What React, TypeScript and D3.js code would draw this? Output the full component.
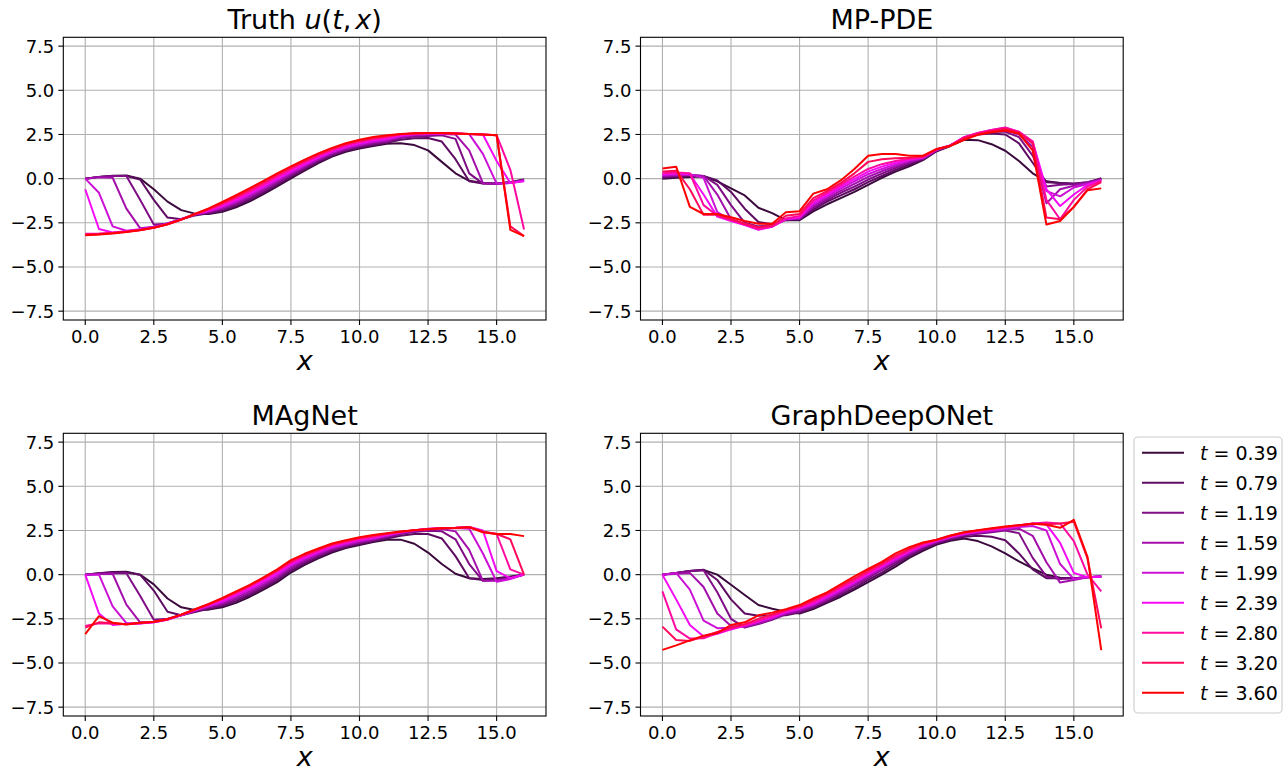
import React from "react";
import * as d3 from "d3";

// spatial grid (x) and the nine time snapshots
const xs = [0, 0.5, 1, 1.5, 2, 2.5, 3, 3.5, 4, 4.5, 5, 5.5, 6, 6.5, 7, 7.5, 8, 8.5, 9, 9.5, 10, 10.5, 11, 11.5, 12, 12.5, 13, 13.5, 14, 14.5, 15, 15.5, 16];
const times = ["0.39", "0.79", "1.19", "1.59", "1.99", "2.39", "2.80", "3.20", "3.60"];
const colors = ["#3b0a3d", "#5e0b62", "#800d86", "#a40fac", "#cc10d6", "#f50af5", "#ff0aa0", "#ff0a5a", "#ff0000"];

const xTicks = [0, 2.5, 5, 7.5, 10, 12.5, 15];
const yTicks = [-7.5, -5, -2.5, 0, 2.5, 5, 7.5];

const truth = [
  [0, 0.1, 0.17, 0.18, 0.0, -0.6, -1.3, -1.78, -1.98, -2.0, -1.88, -1.62, -1.28, -0.88, -0.44, 0.02, 0.45, 0.88, 1.25, 1.52, 1.7, 1.85, 1.97, 2.0, 1.9, 1.6, 0.95, 0.3, -0.12, -0.25, -0.28, -0.2, -0.05],
  [0, 0.1, 0.15, 0.15, -0.05, -1.2, -2.2, -2.3, -2.08, -1.96, -1.81, -1.54, -1.19, -0.79, -0.35, 0.1, 0.53, 0.95, 1.31, 1.58, 1.76, 1.91, 2.03, 2.2, 2.28, 2.3, 2.1, 1.1, -0.15, -0.27, -0.28, -0.2, -0.06],
  [0, 0.1, 0.15, 0.15, -1.2, -2.6, -2.55, -2.3, -2.05, -1.92, -1.74, -1.45, -1.1, -0.69, -0.26, 0.19, 0.61, 1.02, 1.37, 1.64, 1.83, 1.98, 2.09, 2.3, 2.38, 2.42, 2.45, 2.25, 0.3, -0.28, -0.29, -0.22, -0.08],
  [0, 0.08, 0.05, -1.7, -2.8, -2.72, -2.52, -2.28, -2.03, -1.88, -1.67, -1.37, -1.0, -0.6, -0.16, 0.27, 0.69, 1.09, 1.43, 1.7, 1.89, 2.04, 2.15, 2.35, 2.45, 2.5, 2.52, 2.5, 1.6, -0.25, -0.3, -0.24, -0.1],
  [0, -0.8, -2.7, -2.95, -2.86, -2.74, -2.55, -2.3, -2.02, -1.84, -1.6, -1.28, -0.91, -0.5, -0.07, 0.36, 0.77, 1.16, 1.5, 1.76, 1.95, 2.1, 2.21, 2.4, 2.5, 2.55, 2.56, 2.55, 2.52, 1.4, -0.28, -0.25, -0.12],
  [-0.6, -2.85, -3.05, -2.98, -2.88, -2.76, -2.57, -2.31, -2.01, -1.8, -1.53, -1.2, -0.82, -0.41, 0.02, 0.44, 0.84, 1.22, 1.56, 1.82, 2.01, 2.17, 2.28, 2.45, 2.53, 2.56, 2.57, 2.55, 2.52, 2.5, 1.0, -0.25, -0.15],
  [-3.12, -3.1, -3.06, -2.99, -2.9, -2.77, -2.58, -2.32, -2.01, -1.76, -1.46, -1.11, -0.73, -0.32, 0.11, 0.53, 0.92, 1.29, 1.62, 1.88, 2.08, 2.23, 2.34, 2.5, 2.55, 2.57, 2.57, 2.56, 2.53, 2.5, 2.46, 0.5, -2.88],
  [-3.18, -3.14, -3.08, -3.01, -2.91, -2.78, -2.58, -2.32, -2.0, -1.72, -1.39, -1.03, -0.63, -0.22, 0.21, 0.61, 1.0, 1.36, 1.68, 1.94, 2.14, 2.3, 2.4, 2.52, 2.56, 2.58, 2.58, 2.56, 2.53, 2.5, 2.46, -2.7, -3.25],
  [-3.2, -3.16, -3.1, -3.02, -2.92, -2.78, -2.58, -2.32, -2.0, -1.68, -1.32, -0.94, -0.54, -0.13, 0.3, 0.7, 1.08, 1.43, 1.74, 2.0, 2.2, 2.36, 2.46, 2.53, 2.57, 2.58, 2.58, 2.56, 2.53, 2.5, 2.46, -2.9, -3.25],
];

const mpPde = [
  [0.0, 0.05, 0.1, 0.12, -0.15, -0.55, -0.95, -1.65, -1.95, -2.35, -2.35, -1.85, -1.45, -1.1, -0.75, -0.35, 0.05, 0.4, 0.7, 1.05, 1.55, 1.85, 2.2, 2.18, 1.95, 1.58, 1.0, 0.3, -0.15, -0.25, -0.3, -0.25, 0.03],
  [0.05, 0.1, 0.15, 0.15, -0.1, -0.75, -1.7, -2.45, -2.6, -2.35, -2.3, -1.75, -1.3, -0.95, -0.6, -0.2, 0.15, 0.5, 0.8, 1.1, 1.58, 1.88, 2.3, 2.5, 2.55, 2.5, 2.0, 0.9, -0.2, -0.25, -0.28, -0.2, 0.0],
  [0.1, 0.15, 0.2, 0.15, -0.35, -1.5, -2.5, -2.7, -2.65, -2.3, -2.28, -1.65, -1.2, -0.8, -0.45, -0.05, 0.28, 0.6, 0.88, 1.12, 1.6, 1.88, 2.3, 2.55, 2.65, 2.65, 2.35, 1.3, -0.45, -0.35, -0.3, -0.2, -0.02],
  [0.15, 0.2, 0.22, 0.15, -0.9, -2.3, -2.55, -2.8, -2.7, -2.3, -2.25, -1.55, -1.1, -0.68, -0.3, 0.1, 0.42, 0.7, 0.95, 1.15, 1.62, 1.88, 2.3, 2.55, 2.7, 2.75, 2.5, 1.8, -1.4, -0.6, -0.4, -0.25, -0.05],
  [0.2, 0.25, 0.25, 0.05, -1.9, -2.35, -2.6, -2.85, -2.72, -2.3, -2.22, -1.45, -1.0, -0.55, -0.15, 0.25, 0.55, 0.8, 1.02, 1.18, 1.64, 1.88, 2.32, 2.56, 2.72, 2.85, 2.6, 2.0, -0.7, -1.0, -0.5, -0.3, -0.08],
  [0.25, 0.3, 0.25, -0.9, -2.15, -2.4, -2.62, -2.9, -2.72, -2.28, -2.18, -1.35, -0.9, -0.45, -0.02, 0.4, 0.68, 0.9, 1.08, 1.2, 1.65, 1.88, 2.35, 2.58, 2.75, 2.9, 2.65, 2.1, -0.6, -1.55, -0.9, -0.35, -0.1],
  [0.3, 0.35, 0.3, -1.5, -2.1, -2.35, -2.6, -2.85, -2.7, -2.25, -2.12, -1.25, -0.8, -0.35, 0.12, 0.55, 0.82, 1.0, 1.12, 1.22, 1.66, 1.88, 2.35, 2.58, 2.75, 2.88, 2.65, 2.1, -1.2, -2.3, -1.2, -0.45, -0.12],
  [0.4, 0.45, -0.6, -2.05, -2.05, -2.3, -2.55, -2.75, -2.65, -2.1, -2.0, -1.1, -0.7, -0.25, 0.3, 0.95, 1.1, 1.15, 1.18, 1.25, 1.67, 1.87, 2.3, 2.52, 2.7, 2.82, 2.6, 2.0, -2.2, -2.3, -1.6, -0.6, -0.2],
  [0.58, 0.68, -1.6, -2.0, -2.0, -2.18, -2.4, -2.55, -2.55, -1.9, -1.84, -0.85, -0.6, -0.1, 0.55, 1.3, 1.4, 1.4, 1.3, 1.3, 1.68, 1.85, 2.2, 2.48, 2.62, 2.72, 2.55, 1.6, -2.6, -2.4, -1.6, -0.65, -0.55],
];

const magnet = [
  [0, 0.08, 0.15, 0.17, 0.0, -0.55, -1.35, -1.85, -2.0, -1.98, -1.85, -1.6, -1.25, -0.85, -0.42, 0.12, 0.55, 0.92, 1.25, 1.5, 1.68, 1.85, 1.97, 1.98, 1.75, 1.25, 0.6, 0.05, -0.2, -0.25, -0.2, -0.1, 0.0],
  [0, 0.08, 0.12, 0.12, 0.0, -0.9, -2.1, -2.3, -2.12, -1.93, -1.78, -1.5, -1.15, -0.75, -0.32, 0.22, 0.64, 1.0, 1.32, 1.56, 1.74, 1.9, 2.05, 2.2, 2.3, 2.3, 2.05, 1.05, -0.2, -0.3, -0.25, -0.15, 0.0],
  [0, 0.05, 0.1, 0.08, -1.2, -2.55, -2.5, -2.3, -2.08, -1.88, -1.7, -1.4, -1.05, -0.65, -0.22, 0.32, 0.73, 1.08, 1.4, 1.62, 1.8, 1.95, 2.12, 2.3, 2.42, 2.48, 2.45, 2.0, 0.6, -0.35, -0.3, -0.18, 0.0],
  [0, 0.03, 0.05, -1.7, -2.7, -2.68, -2.52, -2.3, -2.05, -1.82, -1.62, -1.3, -0.95, -0.55, -0.12, 0.42, 0.82, 1.16, 1.47, 1.68, 1.86, 2.0, 2.18, 2.35, 2.48, 2.55, 2.58, 2.45, 1.4, -0.35, -0.35, -0.2, 0.0],
  [0, 0, -1.8, -2.75, -2.75, -2.7, -2.54, -2.3, -2.02, -1.77, -1.55, -1.2, -0.85, -0.45, -0.02, 0.52, 0.9, 1.24, 1.54, 1.74, 1.92, 2.05, 2.22, 2.38, 2.5, 2.58, 2.62, 2.64, 2.6, 1.2, -0.4, -0.25, 0.0],
  [0, -2.2, -2.85, -2.78, -2.76, -2.7, -2.55, -2.28, -2.0, -1.73, -1.48, -1.12, -0.76, -0.35, 0.08, 0.6, 0.98, 1.3, 1.6, 1.8, 1.97, 2.1, 2.26, 2.4, 2.52, 2.6, 2.64, 2.66, 2.7, 2.5, 0.2, -0.2, 0.0],
  [-2.9, -2.75, -2.78, -2.8, -2.75, -2.68, -2.53, -2.27, -1.98, -1.7, -1.4, -1.04, -0.67, -0.25, 0.18, 0.68, 1.05, 1.36, 1.66, 1.85, 2.02, 2.15, 2.3, 2.42, 2.52, 2.58, 2.63, 2.65, 2.7, 2.45, 2.3, 0.3, 0.0],
  [-3.0, -2.7, -2.75, -2.81, -2.74, -2.67, -2.52, -2.26, -1.97, -1.68, -1.36, -1.0, -0.62, -0.2, 0.24, 0.75, 1.12, 1.42, 1.71, 1.9, 2.07, 2.2, 2.32, 2.43, 2.52, 2.57, 2.62, 2.64, 2.69, 2.42, 2.3, 2.0, 0.0],
  [-3.36, -2.35, -2.72, -2.82, -2.72, -2.66, -2.52, -2.26, -1.96, -1.66, -1.32, -0.95, -0.58, -0.15, 0.3, 0.82, 1.18, 1.48, 1.76, 1.95, 2.12, 2.24, 2.35, 2.44, 2.52, 2.57, 2.62, 2.64, 2.68, 2.4, 2.3, 2.3, 2.18],
];

const graphDeepONet = [
  [0, 0.1, 0.2, 0.27, 0, -0.57, -1.15, -1.72, -1.93, -2.1, -2.2, -1.95, -1.6, -1.25, -0.85, -0.42, 0, 0.45, 0.95, 1.35, 1.7, 1.92, 2.05, 1.9, 1.6, 1.21, 0.75, 0.35, 0, -0.17, -0.2, -0.15, -0.1],
  [0, 0.1, 0.2, 0.28, -0.3, -1.4, -2.2, -2.33, -2.3, -2.3, -2.15, -1.88, -1.52, -1.15, -0.75, -0.3, 0.12, 0.58, 1.05, 1.45, 1.76, 1.98, 2.15, 2.2, 2.15, 1.95, 1.2, 0.3, -0.2, -0.2, -0.2, -0.15, -0.1],
  [0, 0.1, 0.2, 0.25, -1.0, -2.5, -3.0, -2.8, -2.55, -2.25, -2.1, -1.82, -1.45, -1.05, -0.62, -0.18, 0.25, 0.7, 1.12, 1.52, 1.82, 2.04, 2.22, 2.32, 2.4, 2.5, 2.35, 0.95, -0.1, -0.25, -0.2, -0.15, -0.1],
  [0, 0.05, 0.1, -0.7, -2.2, -2.9, -2.95, -2.75, -2.5, -2.2, -2.02, -1.75, -1.38, -0.98, -0.55, -0.1, 0.32, 0.78, 1.2, 1.58, 1.86, 2.08, 2.27, 2.38, 2.45, 2.55, 2.6, 2.2, 0.7, -0.45, -0.3, -0.15, -0.1],
  [0, 0.1, -0.85, -2.6, -3.03, -3.0, -2.85, -2.65, -2.45, -2.15, -1.95, -1.68, -1.3, -0.9, -0.47, -0.02, 0.4, 0.85, 1.27, 1.63, 1.9, 2.12, 2.3, 2.42, 2.5, 2.6, 2.7, 2.75, 2.5, 0.6, -0.25, -0.15, -0.1],
  [0, -1.4, -2.85, -3.5, -3.35, -3.1, -2.9, -2.65, -2.4, -2.1, -1.9, -1.62, -1.22, -0.82, -0.4, 0.05, 0.48, 0.92, 1.32, 1.68, 1.93, 2.15, 2.32, 2.45, 2.55, 2.65, 2.75, 2.9, 2.85, 1.8, 0.1, -0.15, -0.1],
  [-0.95, -3.1, -3.62, -3.6, -3.3, -3.05, -2.85, -2.6, -2.35, -2.05, -1.85, -1.55, -1.15, -0.75, -0.32, 0.12, 0.55, 0.98, 1.38, 1.72, 1.96, 2.18, 2.35, 2.48, 2.58, 2.68, 2.78, 2.9, 2.95, 2.9, 1.9, 0.0, -0.95],
  [-2.94, -3.7, -3.75, -3.5, -3.25, -3.0, -2.8, -2.5, -2.25, -2.0, -1.8, -1.45, -1.08, -0.65, -0.22, 0.22, 0.62, 1.08, 1.45, 1.78, 1.98, 2.2, 2.38, 2.5, 2.6, 2.7, 2.8, 2.88, 2.85, 2.9, 3.0, 0.9, -3.04],
  [-4.26, -4.0, -3.72, -3.45, -3.3, -2.85, -2.7, -2.3, -2.15, -1.95, -1.72, -1.35, -1.0, -0.55, -0.1, 0.32, 0.72, 1.2, 1.55, 1.82, 1.98, 2.22, 2.4, 2.52, 2.62, 2.72, 2.8, 2.88, 2.82, 2.65, 3.1, 1.0, -4.27],
];

const FONT = "DejaVu Sans, sans-serif";
const PW = 482.7;
const PH = 282.7;

const panels = [
  { key: "truth", series: truth, left: 63.3, top: 37.3 },
  { key: "mppde", series: mpPde, left: 640.5, top: 37.3 },
  { key: "magnet", series: magnet, left: 63.3, top: 433.3 },
  { key: "gdon", series: graphDeepONet, left: 640.5, top: 433.3 },
];

function Title({ k }: { k: string }) {
  if (k === "truth")
    return (
      <>
        Truth <tspan fontStyle="italic">u</tspan>(<tspan fontStyle="italic">t</tspan>,
        <tspan fontStyle="italic" dx={4}>x</tspan>)
      </>
    );
  if (k === "mppde") return <>MP-PDE</>;
  if (k === "magnet") return <>MAgNet</>;
  return <>GraphDeepONet</>;
}

function Panel({ k, series, left, top }: { k: string; series: number[][]; left: number; top: number }) {
  const x = d3.scaleLinear().domain([-0.8, 16.8]).range([left, left + PW]);
  const y = d3.scaleLinear().domain([-8, 8]).range([top + PH, top]);
  const line = d3
    .line<number>()
    .x((_, i) => x(xs[i]))
    .y((d) => y(d));
  const fmt = d3.format(".1f");
  const bottom = top + PH;

  return (
    <g>
      {xTicks.map((t) => (
        <line key={"gx" + t} x1={x(t)} x2={x(t)} y1={top} y2={bottom} stroke="#b0b0b0" strokeWidth={1.1} />
      ))}
      {yTicks.map((t) => (
        <line key={"gy" + t} x1={left} x2={left + PW} y1={y(t)} y2={y(t)} stroke="#b0b0b0" strokeWidth={1.1} />
      ))}
      {series.map((s, i) => (
        <path key={i} d={line(s) || ""} fill="none" stroke={colors[i]} strokeWidth={2} strokeLinejoin="round" />
      ))}
      <rect x={left} y={top} width={PW} height={PH} fill="none" stroke="#000" strokeWidth={1.1} />
      {xTicks.map((t) => (
        <g key={"tx" + t}>
          <line x1={x(t)} x2={x(t)} y1={bottom} y2={bottom + 5} stroke="#000" strokeWidth={1.1} />
          <text x={x(t)} y={bottom + 23} textAnchor="middle" fontSize={18} fontFamily={FONT}>
            {fmt(t)}
          </text>
        </g>
      ))}
      {yTicks.map((t) => (
        <g key={"ty" + t}>
          <line x1={left - 5} x2={left} y1={y(t)} y2={y(t)} stroke="#000" strokeWidth={1.1} />
          <text x={left - 9} y={y(t) + 6.5} textAnchor="end" fontSize={18} fontFamily={FONT}>
            {fmt(t)}
          </text>
        </g>
      ))}
      <text x={left + PW / 2} y={top - 8} textAnchor="middle" fontSize={27} fontFamily={FONT}>
        <Title k={k} />
      </text>
      <text x={left + PW / 2} y={bottom + 50} textAnchor="middle" fontSize={27} fontStyle="italic" fontFamily={FONT}>
        x
      </text>
    </g>
  );
}

function Legend() {
  const lx = 1134;
  const ly = 437;
  return (
    <g>
      <rect x={lx} y={ly} width={148} height={276} rx={4} fill="#fff" fillOpacity={0.8} stroke="#cccccc" strokeWidth={1.1} />
      {times.map((t, i) => {
        const cy = ly + 15.7 + i * 30;
        return (
          <g key={t}>
            <line x1={lx + 8} x2={lx + 50} y1={cy} y2={cy} stroke={colors[i]} strokeWidth={2} />
            <text x={lx + 66} y={cy + 7} fontSize={19} fontFamily={FONT}>
              <tspan fontStyle="italic">t</tspan> = {t}
            </text>
          </g>
        );
      })}
    </g>
  );
}

export default function App() {
  return (
    <svg
      width={1284}
      height={772}
      viewBox="0 0 1284 772"
      style={{ position: "absolute", left: 0, top: 0, background: "#fff" }}
    >
      {panels.map((p) => (
        <Panel key={p.key} k={p.key} series={p.series} left={p.left} top={p.top} />
      ))}
      <Legend />
    </svg>
  );
}
